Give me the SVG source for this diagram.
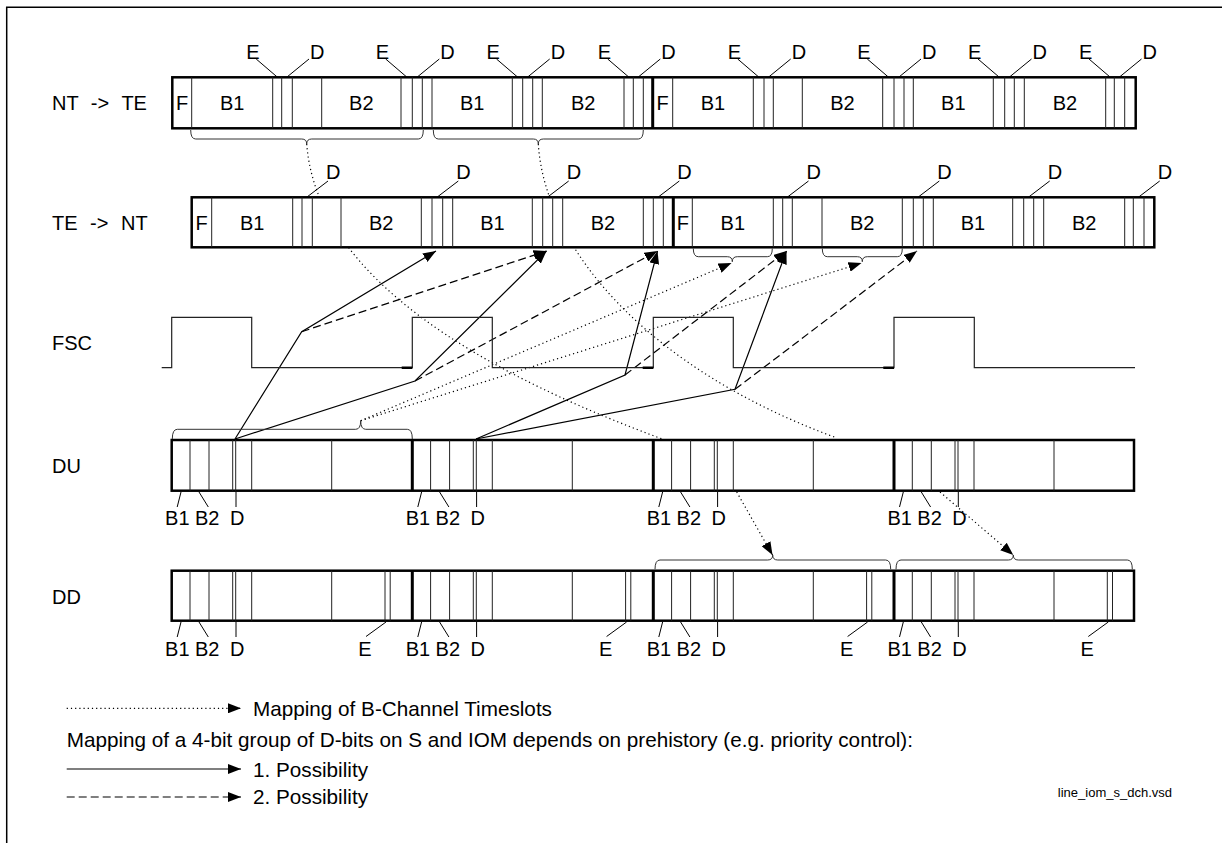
<svg xmlns="http://www.w3.org/2000/svg" width="1222" height="843" viewBox="0 0 1222 843">
<style>
.t{font-family:"Liberation Sans",Arial,sans-serif;font-size:20px;fill:#000}
.lg{font-size:20.7px}
.m{text-anchor:middle}
.ws{word-spacing:7px}
.box{fill:#fff;stroke:#000;stroke-width:2.5}
.dv{stroke:#222;stroke-width:1;fill:none}
.thk{stroke:#000;stroke-width:3;fill:none}
.ld{stroke:#000;stroke-width:1;fill:none}
.br{stroke:#333;stroke-width:1;fill:none}
.sol{stroke:#000;stroke-width:1.2;fill:none}
.dsh{stroke:#000;stroke-width:1.2;fill:none;stroke-dasharray:8 4}
.dot{stroke:#000;stroke-width:1.2;fill:none;stroke-dasharray:1.2 3}
.arr{marker-end:url(#ah)}
</style>
<defs>
<marker id="ah" markerUnits="userSpaceOnUse" markerWidth="13" markerHeight="10" refX="13" refY="5" orient="auto" viewBox="0 0 13 10">
<path d="M0,0 L13,5 L0,10 Z" fill="#000"/>
</marker>
</defs>

<path d="M6.7,843 V7.3 H1222" fill="none" stroke="#000" stroke-width="1.5"/>

<g id="labels">
<text class="t ws" x="52" y="110">NT -&gt; TE</text>
<text class="t ws" x="52" y="230">TE -&gt; NT</text>
<text class="t" x="52" y="350">FSC</text>
<text class="t" x="52" y="473">DU</text>
<text class="t" x="52" y="604">DD</text>
</g>

<g id="connectors">
<path class="dot" d="M306.7,144 C315,250 420,350 665,440"/>
<path class="dot" d="M538.3,144 C545,250 650,370 837,438"/>
<path class="sol arr" d="M235,439 L301.7,331.7 L436,251"/>
<path class="sol arr" d="M235,439 L415,381 L546.5,251"/>
<path class="sol arr" d="M476,439 L625,375 L657.5,251"/>
<path class="sol arr" d="M476,439 L735,389.3 L786.5,251"/>
<path class="dsh arr" d="M301.7,331.7 L546.5,251"/>
<path class="dsh arr" d="M415,381 L657.5,251"/>
<path class="dsh arr" d="M625,375 L786.5,251"/>
<path class="dsh arr" d="M735,389.3 L917,251"/>
<path class="dot arr" d="M360.7,420.7 L731.5,263"/>
<path class="dot arr" d="M360.7,420.7 L861.5,263"/>
<path class="dot arr" d="M736.7,492 L772.5,555"/>
<path class="dot arr" d="M940,492 L1013.3,555"/>
</g>

<g id="nt-te">
<rect class="box" x="172.3" y="77.3" width="963.4" height="51"/>
<path class="dv" d="M191.7,77.3V128.3M272.7,77.3V128.3M281.7,77.3V128.3M292.3,77.3V128.3M321.7,77.3V128.3M401,77.3V128.3M412.3,77.3V128.3M422.3,77.3V128.3M432,77.3V128.3M512.3,77.3V128.3M522.7,77.3V128.3M532.7,77.3V128.3M542.3,77.3V128.3M624,77.3V128.3M633.3,77.3V128.3M643.3,77.3V128.3M672.7,77.3V128.3M753.3,77.3V128.3M764,77.3V128.3M773.3,77.3V128.3M802.3,77.3V128.3M882.7,77.3V128.3M894,77.3V128.3M904,77.3V128.3M913.3,77.3V128.3M993.3,77.3V128.3M1004.7,77.3V128.3M1014.3,77.3V128.3M1024.3,77.3V128.3M1105.7,77.3V128.3M1114.3,77.3V128.3M1124.7,77.3V128.3"/>
<path class="thk" d="M652.7,77.3V128.3"/>
<text class="t m" x="182" y="110">F</text>
<text class="t m" x="232.2" y="110">B1</text>
<text class="t m" x="361.3" y="110">B2</text>
<text class="t m" x="472.2" y="110">B1</text>
<text class="t m" x="583.2" y="110">B2</text>
<text class="t m" x="662.7" y="110">F</text>
<text class="t m" x="713" y="110">B1</text>
<text class="t m" x="842.5" y="110">B2</text>
<text class="t m" x="953.3" y="110">B1</text>
<text class="t m" x="1065" y="110">B2</text>
<path class="ld" d="M256.2,59L277.2,77M309,59L287,77M385.7,59L406.7,77M439.3,59L417.3,77M496.5,59L517.5,77M549.7,59L527.7,77M607.7,59L628.7,77M660.3,59L638.3,77M737.7,59L758.7,77M790.7,59L768.7,77M867.3,59L888.3,77M921,59L899,77M978,59L999,77M1031.5,59L1009.5,77M1089,59L1110,77M1141.5,59L1119.5,77"/>
<text class="t" x="246.2" y="59">E</text><text class="t" x="310" y="59">D</text>
<text class="t" x="375.7" y="59">E</text><text class="t" x="440.3" y="59">D</text>
<text class="t" x="486.5" y="59">E</text><text class="t" x="550.7" y="59">D</text>
<text class="t" x="597.7" y="59">E</text><text class="t" x="661.3" y="59">D</text>
<text class="t" x="727.7" y="59">E</text><text class="t" x="791.7" y="59">D</text>
<text class="t" x="857.3" y="59">E</text><text class="t" x="922" y="59">D</text>
<text class="t" x="968" y="59">E</text><text class="t" x="1032.5" y="59">D</text>
<text class="t" x="1079" y="59">E</text><text class="t" x="1142.5" y="59">D</text>
<path class="br" d="M190.7,130 Q190.7,139 195.7,139 H301.7 Q306.7,139 306.7,144 Q306.7,139 311.7,139 H418.3 Q423.3,139 423.3,130"/>
<path class="br" d="M433.3,130 Q433.3,139 438.3,139 H533.3 Q538.3,139 538.3,144 Q538.3,139 543.3,139 H638.3 Q643.3,139 643.3,130"/>
</g>

<g id="te-nt">
<rect class="box" x="191.7" y="197.3" width="962.6" height="50"/>
<path class="dv" d="M211.7,197.3V247.3M292.7,197.3V247.3M302,197.3V247.3M312.3,197.3V247.3M341,197.3V247.3M421.3,197.3V247.3M432,197.3V247.3M442.7,197.3V247.3M452.7,197.3V247.3M532.3,197.3V247.3M542.7,197.3V247.3M552.7,197.3V247.3M562.7,197.3V247.3M643.3,197.3V247.3M653.3,197.3V247.3M663.3,197.3V247.3M692.3,197.3V247.3M773.3,197.3V247.3M782.7,197.3V247.3M792.3,197.3V247.3M822,197.3V247.3M902.3,197.3V247.3M913.3,197.3V247.3M923.3,197.3V247.3M933.3,197.3V247.3M1012.7,197.3V247.3M1023.7,197.3V247.3M1033.7,197.3V247.3M1043.7,197.3V247.3M1124.7,197.3V247.3M1133.3,197.3V247.3M1144,197.3V247.3"/>
<path class="thk" d="M673.3,197.3V247.3"/>
<text class="t m" x="201.7" y="229.5">F</text>
<text class="t m" x="252.2" y="229.5">B1</text>
<text class="t m" x="381.2" y="229.5">B2</text>
<text class="t m" x="492.5" y="229.5">B1</text>
<text class="t m" x="603" y="229.5">B2</text>
<text class="t m" x="682.8" y="229.5">F</text>
<text class="t m" x="732.8" y="229.5">B1</text>
<text class="t m" x="862.2" y="229.5">B2</text>
<text class="t m" x="973" y="229.5">B1</text>
<text class="t m" x="1084.2" y="229.5">B2</text>
<path class="ld" d="M328,181L307,197M458.3,181L437.3,197M568.7,181L547.7,197M679.3,181L658.3,197M808.5,181L787.5,197M939.3,181L918.3,197M1049.7,181L1028.7,197M1159.7,181L1138.7,197"/>
<text class="t" x="326" y="178.5">D</text>
<text class="t" x="456.3" y="178.5">D</text>
<text class="t" x="566.7" y="178.5">D</text>
<text class="t" x="677.3" y="178.5">D</text>
<text class="t" x="806.5" y="178.5">D</text>
<text class="t" x="937.3" y="178.5">D</text>
<text class="t" x="1047.7" y="178.5">D</text>
<text class="t" x="1157.7" y="178.5">D</text>
<path class="br" d="M693.3,248.5 Q693.3,256.7 698.3,256.7 H727.3 Q732.3,256.7 732.3,261.7 Q732.3,256.7 737.3,256.7 H767.3 Q772.3,256.7 772.3,248.5"/>
<path class="br" d="M822.3,248.5 Q822.3,256.7 827.3,256.7 H857.3 Q862.3,256.7 862.3,261.7 Q862.3,256.7 867.3,256.7 H897.3 Q902.3,256.7 902.3,248.5"/>
</g>

<g id="fsc">
<path d="M161.7,367.7 H171.7 V317.3 H251.7 V367.7 H412.3 V317.3 H492.3 V367.7 H653.3 V317.3 H733.3 V367.7 H894 V317.3 H974.3 V367.7 H1135" fill="none" stroke="#222" stroke-width="1.2"/>
<path d="M401.7,367.7H412.3M642.7,367.7H653.3M883.3,367.7H894" stroke="#000" stroke-width="2.5"/>
</g>

<g id="du">
<rect class="box" x="171.7" y="440" width="962.3" height="50.7"/>
<path class="dv" d="M190,440V490.7M209,440V490.7M232.7,440V490.7M235.7,440V490.7M251.7,440V490.7M331.7,440V490.7M430.6,440V490.7M449.6,440V490.7M473.3,440V490.7M476.3,440V490.7M492.3,440V490.7M572.3,440V490.7M671.6,440V490.7M690.6,440V490.7M714.3,440V490.7M717.3,440V490.7M733.3,440V490.7M813.3,440V490.7M912.3,440V490.7M931.3,440V490.7M955,440V490.7M958,440V490.7M974,440V490.7M1054,440V490.7"/>
<path class="thk" d="M412.3,440V490.7M653.3,440V490.7M894,440V490.7"/>
<path class="ld" d="M181,492L177.2,507M199,492L208.3,507M236,492V507M421.6,492L417.8,507M439.6,492L448.9,507M476.6,492V507M662.6,492L658.8,507M680.6,492L689.9,507M717.6,492V507M903.3,492L899.5,507M921.3,492L930.6,507M958.3,492V507"/>
<text class="t" x="165.1" y="525">B1</text><text class="t" x="195" y="525">B2</text><text class="t" x="230" y="525">D</text>
<text class="t" x="405.7" y="525">B1</text><text class="t" x="435.6" y="525">B2</text><text class="t" x="470.6" y="525">D</text>
<text class="t" x="646.7" y="525">B1</text><text class="t" x="676.6" y="525">B2</text><text class="t" x="711.6" y="525">D</text>
<text class="t" x="887.4" y="525">B1</text><text class="t" x="917.3" y="525">B2</text><text class="t" x="952.3" y="525">D</text>
<path class="br" d="M172.3,439 Q172.3,429.3 177.3,429.3 H355.7 Q360.7,429.3 360.7,420.7 Q360.7,429.3 365.7,429.3 H407.3 Q412.3,429.3 412.3,439"/>
</g>

<g id="dd">
<rect class="box" x="171.7" y="570.7" width="962.3" height="50"/>
<path class="dv" d="M190,570.7V620.7M209,570.7V620.7M232.7,570.7V620.7M235.7,570.7V620.7M251.7,570.7V620.7M331.7,570.7V620.7M385,570.7V620.7M390.2,570.7V620.7M430.6,570.7V620.7M449.6,570.7V620.7M473.3,570.7V620.7M476.3,570.7V620.7M492.3,570.7V620.7M572.3,570.7V620.7M625.6,570.7V620.7M630.8,570.7V620.7M671.6,570.7V620.7M690.6,570.7V620.7M714.3,570.7V620.7M717.3,570.7V620.7M733.3,570.7V620.7M813.3,570.7V620.7M866.6,570.7V620.7M871.8,570.7V620.7M912.3,570.7V620.7M931.3,570.7V620.7M955,570.7V620.7M958,570.7V620.7M974,570.7V620.7M1054,570.7V620.7M1107.3,570.7V620.7M1112.5,570.7V620.7"/>
<path class="thk" d="M412.3,570.7V620.7M653.3,570.7V620.7M894,570.7V620.7"/>
<path class="ld" d="M181,622L177.2,637M199,622L208.3,637M236,622V637M386,622L366,636.5M421.6,622L417.8,637M439.6,622L448.9,637M476.6,622V637M626.6,622L606.6,636.5M662.6,622L658.8,637M680.6,622L689.9,637M717.6,622V637M867.6,622L847.6,636.5M903.3,622L899.5,637M921.3,622L930.6,637M958.3,622V637M1108.3,622L1088.3,636.5"/>
<text class="t" x="165.1" y="655.5">B1</text><text class="t" x="195" y="655.5">B2</text><text class="t" x="230" y="655.5">D</text><text class="t" x="358.3" y="655.5">E</text>
<text class="t" x="405.7" y="655.5">B1</text><text class="t" x="435.6" y="655.5">B2</text><text class="t" x="470.6" y="655.5">D</text><text class="t" x="598.9" y="655.5">E</text>
<text class="t" x="646.7" y="655.5">B1</text><text class="t" x="676.6" y="655.5">B2</text><text class="t" x="711.6" y="655.5">D</text><text class="t" x="839.9" y="655.5">E</text>
<text class="t" x="887.4" y="655.5">B1</text><text class="t" x="917.3" y="655.5">B2</text><text class="t" x="952.3" y="655.5">D</text><text class="t" x="1080.6" y="655.5">E</text>
<path class="br" d="M655,569.3 Q655,560 660,560 H767.7 Q772.7,560 772.7,555 Q772.7,560 777.7,560 H885.7 Q890.7,560 890.7,569.3"/>
<path class="br" d="M896,569.3 Q896,560 901,560 H1008.3 Q1013.3,560 1013.3,555 Q1013.3,560 1018.3,560 H1127.3 Q1132.3,560 1132.3,569.3"/>
</g>

<g id="legend">
<path class="dot arr" d="M66.7,708.3 H241"/>
<text class="t lg" x="253" y="716">Mapping of B-Channel Timeslots</text>
<text class="t lg" x="66.7" y="746.7">Mapping of a 4-bit group of D-bits on S and IOM depends on prehistory (e.g. priority control):</text>
<path class="sol arr" d="M66.7,769 H241"/>
<text class="t lg" x="253" y="776.7">1. Possibility</text>
<path class="dsh arr" d="M66.7,797 H241"/>
<text class="t lg" x="253" y="804">2. Possibility</text>
<text x="1172" y="797" text-anchor="end" style="font-family:'Liberation Sans',Arial,sans-serif;font-size:13px">line_iom_s_dch.vsd</text>
</g>
</svg>
